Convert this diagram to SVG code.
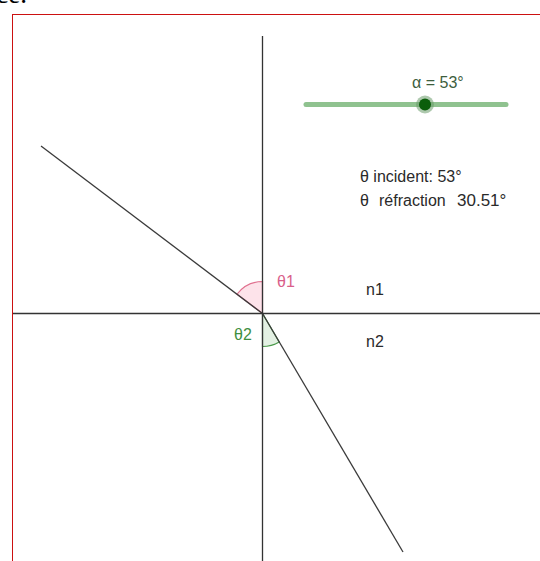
<svg xmlns="http://www.w3.org/2000/svg" width="540" height="561" viewBox="0 0 540 561">
<style>
.ax{stroke:#333;stroke-width:1.3;fill:none}
.ray{stroke:#3a3a3a;stroke-width:1.3;fill:none}
.t{font-family:"Liberation Sans",Arial,sans-serif;font-size:16px;fill:#2a2a2a}
</style>
<rect width="540" height="561" fill="#fff"/>
<text x="27" y="3" text-anchor="end" font-family="Liberation Serif,serif" font-size="27" fill="#000">ce.</text>
<rect id="frame" x="12.5" y="14.5" width="560" height="580" fill="none" stroke="#cc1111" stroke-width="1"/>
<g id="angles">
<path id="theta1-arc" d="M262.5,313.5 L262.5,281.5 A32,32 0 0 0 236.94,294.24 Z" fill="#fde3ea" stroke="#e0708f" stroke-width="1.2"/>
<path id="theta2-arc" d="M262.5,313.5 L262.5,346.5 A33,33 0 0 0 279.25,341.93 Z" fill="#e3f1e3" stroke="#4a9a4a" stroke-width="1.2"/>
</g>
<g id="connectors">
<line class="ax" x1="262.5" y1="36" x2="262.5" y2="561"/>
<line class="ax" x1="13" y1="313.5" x2="540" y2="313.5"/>
<line class="ray" x1="41" y1="146" x2="262.5" y2="313.5"/>
<line class="ray" x1="262.5" y1="313.5" x2="403" y2="552"/>
</g>
<g id="slider">
<line x1="306" y1="104.5" x2="506" y2="104.5" stroke="#8fc28f" stroke-width="5" stroke-linecap="round"/>
<circle cx="425" cy="104.5" r="9" fill="#6a9a6a" opacity="0.55"/>
<circle cx="425" cy="104.5" r="6" fill="#0b5e0b"/>
<text class="t" x="412" y="88" style="fill:#3d5e3d">α = 53°</text>
</g>
<g id="info">
<text class="t" x="360" y="182">θ incident: 53°</text>
<text class="t" y="206"><tspan x="360">θ</tspan><tspan x="379">réfraction</tspan><tspan x="457" style="font-size:17px">30.51°</tspan></text>
</g>
<g id="labels">
<text class="t" x="277" y="287" style="fill:#d9608a">θ1</text>
<text class="t" x="234" y="340" style="fill:#3f8f3f">θ2</text>
<text class="t" x="366" y="295">n1</text>
<text class="t" x="366" y="347">n2</text>
</g>
</svg>
